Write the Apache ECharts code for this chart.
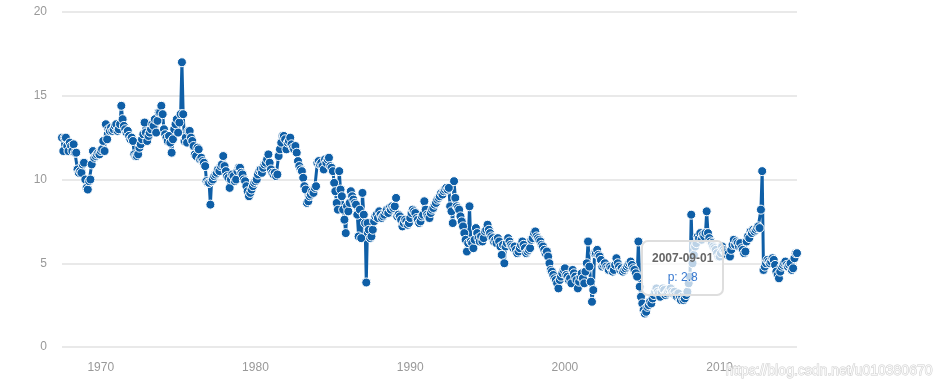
<!DOCTYPE html>
<html>
<head>
<meta charset="utf-8">
<script src="https://cdn.jsdelivr.net/npm/echarts@6/dist/echarts.min.js"></script>
<style>
html,body{margin:0;padding:0;background:#fff;}
#chart{width:946px;height:391px;}
</style>
</head>
<body>
<div id="chart"></div>
<script>
// First data month
const startYear = 1967;
const startMonth = 7; // July
const seriesName = 'p';
// Monthly values, one row per year
const pValues = [
  /*1967*/ 12.5, 11.7, 12.5, 12.5, 12.0, 11.7,
  /*1968*/ 12.2, 12.0, 11.7, 12.1, 11.6, 11.6, 10.6, 10.4, 10.5, 10.4, 10.9, 11.0,
  /*1969*/ 10.0, 9.5, 9.4, 9.9, 10.0, 10.9, 11.7, 11.3, 11.4, 11.5, 11.6, 11.5,
  /*1970*/ 11.7, 11.8, 12.3, 11.7, 13.3, 12.4, 13.0, 12.9, 13.1, 12.9, 13.0, 13.2,
  /*1971*/ 13.3, 12.9, 13.0, 13.3, 14.4, 13.6, 13.2, 13.0, 12.8, 12.9, 12.6, 12.4,
  /*1972*/ 12.5, 12.3, 11.5, 11.4, 11.4, 11.5, 11.9, 12.1, 12.4, 12.7, 13.4, 12.8,
  /*1973*/ 12.3, 12.6, 12.8, 13.0, 13.3, 13.2, 13.6, 12.8, 13.5, 14.0, 14.0, 14.4,
  /*1974*/ 13.9, 13.0, 12.7, 12.5, 12.3, 12.6, 12.2, 11.6, 12.4, 13.0, 13.3, 13.6,
  /*1975*/ 12.8, 13.4, 13.9, 17.0, 13.9, 12.3, 12.5, 12.2, 12.9, 12.9, 12.5, 12.3,
  /*1976*/ 12.0, 11.5, 11.4, 11.9, 11.8, 11.2, 11.3, 11.1, 11.0, 10.8, 9.9, 9.8,
  /*1977*/ 9.8, 8.5, 9.9, 10.0, 10.2, 10.3, 10.4, 10.6, 10.5, 10.8, 10.9, 11.4,
  /*1978*/ 10.8, 10.5, 10.2, 10.1, 9.5, 10.0, 10.3, 10.2, 9.9, 10.0, 10.5, 10.7,
  /*1979*/ 10.7, 10.4, 10.3, 10.0, 9.9, 9.6, 9.3, 9.0, 9.2, 9.4, 9.6, 9.8,
  /*1980*/ 9.9, 10.0, 10.3, 10.5, 10.6, 10.4, 10.7, 10.9, 11.0, 11.2, 11.5, 11.0,
  /*1981*/ 10.6, 10.4, 10.3, 10.4, 10.2, 10.3, 11.4, 11.8, 12.2, 12.6, 12.6, 12.4,
  /*1982*/ 11.8, 12.2, 12.3, 12.5, 12.1, 11.9, 11.8, 12.0, 11.6, 11.1, 10.8, 10.6,
  /*1983*/ 10.5, 10.1, 9.6, 9.4, 8.6, 8.7, 9.0, 9.1, 9.3, 9.2, 9.5, 9.6,
  /*1984*/ 11.0, 11.1, 10.9, 11.0, 10.8, 10.6, 11.2, 11.0, 11.2, 11.3, 10.8, 10.7,
  /*1985*/ 10.5, 9.8, 9.3, 8.6, 8.2, 10.5, 9.4, 9.0, 8.2, 7.6, 6.8, 8.4,
  /*1986*/ 8.1, 8.6, 9.3, 9.0, 8.8, 8.6, 8.5, 7.9, 6.6, 8.2, 6.5, 9.2,
  /*1987*/ 7.9, 7.4, 3.85, 7.4, 7.0, 6.5, 6.6, 7.0, 7.5, 7.8, 7.9, 7.7,
  /*1988*/ 8.1, 7.9, 7.7, 7.8, 7.9, 8.1, 8.2, 8.0, 8.3, 8.2, 8.4, 8.3,
  /*1989*/ 8.4, 8.9, 7.8, 7.9, 7.8, 7.6, 7.2, 7.4, 7.6, 7.5, 7.3, 7.4,
  /*1990*/ 7.7, 8.0, 8.2, 8.1, 8.0, 7.7, 7.6, 7.4, 7.5, 7.8, 7.9, 8.7,
  /*1991*/ 8.2, 7.9, 7.8, 7.7, 8.0, 8.2, 8.3, 8.5, 8.6, 8.8, 8.9, 9.0,
  /*1992*/ 9.2, 9.1, 9.3, 9.4, 9.5, 9.4, 9.5, 8.4, 8.1, 7.4, 9.9, 8.9,
  /*1993*/ 8.4, 8.3, 8.2, 7.8, 7.5, 7.2, 6.8, 6.4, 5.7, 6.2, 8.4, 6.3,
  /*1994*/ 6.2, 5.9, 6.4, 7.1, 6.8, 6.5, 6.3, 6.6, 6.3, 6.5, 6.9, 7.0,
  /*1995*/ 7.3, 7.0, 6.8, 6.6, 6.5, 6.3, 6.4, 6.2, 6.5, 6.3, 6.0, 5.5,
  /*1996*/ 6.1, 5.0, 6.0, 6.2, 6.5, 6.3, 6.1, 6.0, 5.9, 6.0, 5.8, 5.6,
  /*1997*/ 5.7, 5.9, 6.1, 6.3, 6.1, 5.9, 5.6, 5.7, 5.8, 5.9, 6.4, 6.5,
  /*1998*/ 6.8, 6.9, 6.6, 6.5, 6.4, 6.3, 6.1, 6.0, 5.8, 5.6, 5.7, 5.4,
  /*1999*/ 5.0, 4.6, 4.5, 4.3, 4.1, 4.0, 3.8, 3.5, 4.0, 4.2, 4.4, 4.6,
  /*2000*/ 4.7, 4.3, 4.2, 4.0, 4.1, 3.8, 4.6, 4.4, 4.2, 4.0, 3.5, 3.9,
  /*2001*/ 4.2, 4.4, 4.1, 3.8, 4.5, 5.0, 6.3, 4.8, 3.9, 2.7, 3.4, 5.6,
  /*2002*/ 5.6, 5.8, 5.5, 5.4, 5.2, 4.8, 4.9, 5.0, 4.8, 4.7, 4.6, 4.8,
  /*2003*/ 4.7, 4.5, 4.6, 4.9, 5.3, 5.0, 4.8, 4.6, 4.7, 4.5, 4.6, 4.7,
  /*2004*/ 4.8, 4.9, 5.0, 5.1, 4.9, 4.7, 4.6, 4.4, 4.2, 6.3, 3.6, 3.0,
  /*2005*/ 2.6, 2.2, 2.0, 2.1, 2.4, 2.5, 2.7, 2.6, 2.9, 3.1, 3.3, 3.5,
  /*2006*/ 3.3, 3.2, 3.0, 3.3, 3.5, 3.4, 3.1, 3.2, 3.3, 3.4, 3.5, 3.3,
  /*2007*/ 3.2, 3.3, 3.1, 3.0, 3.2, 2.9, 2.8, 3.0, 2.8, 2.9, 3.1, 3.3,
  /*2008*/ 3.8, 4.2, 7.9, 5.0, 5.5, 6.0, 6.2, 6.6, 6.5, 6.8, 6.4, 6.7,
  /*2009*/ 6.6, 6.8, 8.1, 6.8, 6.5, 6.3, 6.2, 6.0, 5.9, 5.8, 5.6, 5.4,
  /*2010*/ 5.4, 5.6, 6.0, 5.8, 5.7, 5.6, 5.5, 5.6, 5.4, 5.8, 6.1, 6.4,
  /*2011*/ 6.1, 6.3, 6.2, 6.0, 6.2, 5.9, 5.8, 5.6, 5.7, 6.3, 6.6, 6.5,
  /*2012*/ 6.9, 6.8, 7.0, 6.9, 7.0, 7.1, 7.2, 7.1, 8.2, 10.5, 4.6, 4.8,
  /*2013*/ 5.0, 5.2, 5.1, 5.0, 5.1, 5.3, 5.2, 4.9, 4.5, 4.3, 4.1, 4.5,
  /*2014*/ 4.8, 4.9, 5.0, 5.1, 4.9, 4.8, 4.9, 5.0, 4.6, 4.7, 5.3, 5.6,
  /*2015*/ 5.6
];
const yTicks = [0, 5, 10, 15, 20];
const xLabelYears = [1970, 1980, 1990, 2000, 2010];
const tooltipDate = '2007-09-01';

function pad(n){ return n < 10 ? '0' + n : '' + n; }
const dates = [];
const times = [];
pValues.forEach(function (v, i) {
  const m = startMonth - 1 + i;
  const y = startYear + Math.floor(m / 12);
  dates.push(y + '-' + pad(m % 12 + 1) + '-01');
  times.push(Date.UTC(y, m % 12, 1));
});
const seriesData = times.map(function (t, i) { return [t, pValues[i]]; });
const tipIndex = dates.indexOf(tooltipDate);

const chart = echarts.init(document.getElementById('chart'), null, {renderer: 'canvas'});
const option = {
  animation: false,
  grid: {left: 62, right: 149, top: 12, bottom: 44},
  tooltip: {
    trigger: 'item',
    position: [641, 240],
    backgroundColor: 'rgba(255,255,255,0.72)',
    borderColor: '#dedede',
    borderWidth: 2,
    borderRadius: 7,
    padding: [8, 9],
    extraCssText: 'box-shadow:none;text-align:center;',
    formatter: function (p) {
      return '<div style="font:bold 12px Arial,sans-serif;color:#666;line-height:16px">' + dates[p.dataIndex] +
        '</div><div style="font:12px Arial,sans-serif;color:#3a7ad0;line-height:18px;margin-top:2px">' +
        p.seriesName + ': ' + pValues[p.dataIndex] + '</div>';
    }
  },
  xAxis: {
    type: 'value',
    min: times[0],
    max: times[times.length - 1],
    axisLine: {show: false},
    axisTick: {show: false},
    splitLine: {show: false},
    axisLabel: {
      customValues: xLabelYears.map(function (y) { return Date.UTC(y, 0, 1); }),
      formatter: function (v) { return '' + new Date(v).getUTCFullYear(); },
      color: '#999',
      fontFamily: 'Arial, Liberation Sans, sans-serif',
      fontSize: 12,
      margin: 15
    }
  },
  yAxis: {
    type: 'value',
    min: yTicks[0],
    max: yTicks[yTicks.length - 1],
    interval: 5,
    axisLine: {show: false},
    axisTick: {show: false},
    splitLine: {lineStyle: {color: '#e2e2e2', width: 1.5}},
    axisLabel: {
      color: '#999',
      fontFamily: 'Arial, Liberation Sans, sans-serif',
      fontSize: 12,
      margin: 15
    }
  },
  series: [{
    name: seriesName,
    type: 'line',
    data: seriesData,
    symbol: 'circle',
    symbolSize: 9,
    showAllSymbol: true,
    lineStyle: {color: '#0f5fa7', width: 3},
    itemStyle: {color: '#0f5fa7', borderColor: '#fff', borderWidth: 1},
    emphasis: {scale: false},
    z: 2
  }],
  graphic: [{
    type: 'text',
    right: 13,
    top: 364,
    style: {
      text: 'https://blog.csdn.net/u010380670',
      font: '14px Arial, Liberation Sans, sans-serif',
      fill: 'rgba(255,255,255,0.85)',
      stroke: 'rgba(170,170,170,0.6)',
      lineWidth: 1
    },
    z: 100
  }]
};
chart.setOption(option);
setTimeout(function () {
  chart.dispatchAction({type: 'showTip', seriesIndex: 0, dataIndex: tipIndex});
}, 50);
</script>
</body>
</html>
